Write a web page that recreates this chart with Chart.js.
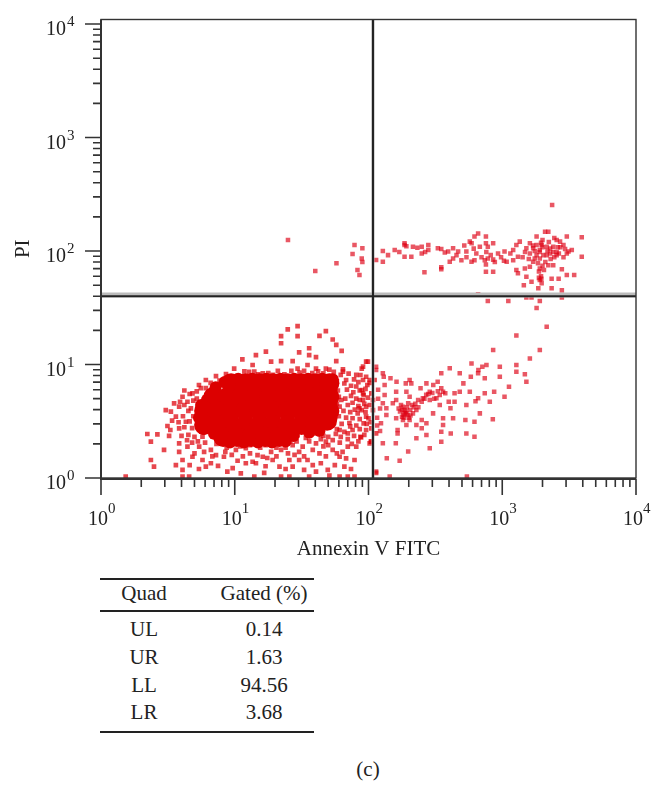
<!DOCTYPE html>
<html>
<head>
<meta charset="utf-8">
<title>Annexin V FITC / PI</title>
<script src="https://cdn.jsdelivr.net/npm/chart.js@4"></script>
<style>
    body { margin: 0; background: #fff; width: 662px; height: 793px; position: relative; overflow: hidden; }
    canvas { position: absolute; left: 0; top: 0; }
    #quadTable { position: absolute; left: 100px; top: 578px; width: 214px; border-collapse: separate; border-spacing: 0;
        border-top: 2px solid #222; border-bottom: 2px solid #222; font: 21px "Liberation Serif", serif; color: #222; }
    #quadTable th { font-weight: normal; height: 32px; padding: 0 0 4px; box-sizing: border-box; border-bottom: 2px solid #222; }
    #quadTable td { height: 27.7px; padding: 0; text-align: center; }
    #quadTable .name { width: 88px; padding-right: 26px; text-align: center; }
    #quadTable tbody tr:first-child td { padding-top: 4px; }
    #quadTable tbody tr:last-child td { padding-bottom: 4px; }
    #caption { position: absolute; left: 338px; width: 60px; top: 757px; text-align: center; font: 21px "Liberation Serif", serif; color: #222; }
</style>
</head>
<body>
<canvas id="dotPlot" width="662" height="560"></canvas>
<table id="quadTable"><thead></thead><tbody></tbody></table>
<div id="caption">(c)</div>
<script>
// Axis ranges and ticks
const xRange = [1, 10000];
const yRange = [1, 10965];
const majorTicks = [1, 10, 100, 1000, 10000];
const tickExponents = ['0', '1', '2', '3', '4'];
const allTicks = [1, 2, 3, 4, 5, 6, 7, 8, 9, 10, 20, 30, 40, 50, 60, 70, 80, 90, 100, 200, 300, 400, 500, 600, 700, 800, 900,
    1000, 2000, 3000, 4000, 5000, 6000, 7000, 8000, 9000, 10000];

// Quadrant gates
const gateX = 108;
const gateY = 40;

// Solid centre of the lower left population
const denseCore = [
    [9.4,6.85],[12,6.85],[15.3,6.85],[19.4,6.85],[24.8,6.85],[31.6,6.85],[40,6.85],[51,6.85],
    [6.9,5.17],[8.8,5.17],[11.2,5.17],[14.2,5.17],[18.1,5.17],[23,5.17],[29.4,5.17],[37.4,5.17],[47.6,5.17],[51,5.17],
    [5.9,3.89],[7.4,3.89],[9.4,3.89],[12,3.89],[15.3,3.89],[19.4,3.89],[24.8,3.89],[31.6,3.89],[40,3.89],[51,3.89],
    [5.9,2.93],[7.4,2.93],[9.4,2.93],[12,2.93],[15.3,2.93],[19.4,2.93],[24.8,2.93],[31.6,2.93],[40,3],[49,3.2],
    [8.2,2.3],[10.4,2.3],[13.3,2.3],[16.9,2.3],[21.6,2.3]
];

// Rim of the solid centre
const coreEdge = [
    [10.6,7.5],[13.5,7.5],[17.2,7.5],[21.9,7.5],[27.8,7.5],[35.3,7.5],[45,7.5],[54,7.4],[8.4,7],[7.2,6.3],[6.2,4.9],[5.6,4.4],
    [5.4,3.4],[5.8,2.7],[7,2.45],[9.2,2.05],[11.7,2.05],[14.9,2.05],[19,2.05],[24,2.1],[27.5,2.35],[36,2.5],[43,2.6],[53,3.4],
    [53,4.5],[53,6]
];

// Scattered events around the core (Annexin, PI)
const lowerLeftEvents = [
    [29.5,21.8],[24.9,20.4],[22.2,17.8],[29.5,17.8],[22.2,15.4],[48,19.7],[43,17.9],[54,16.6],[57.4,14.9],[63,13.2],
    [30.3,12.8],[36,13.9],[36,12.1],[40.5,11.6],[17.1,13],[14.4,12.1],[11.4,11.1],[22.2,10.7],[27.1,10.7],[57.4,10.7],
    [18.7,10.6],[13.6,9.9],[9.9,9.2],[35,9.9],[99,10.6],[89,9.2],[64.4,9.05],[40.5,9.2],[48,9.2],[29.5,9.2],[14,8.65],
    [16.2,8.35],[19.2,8.1],[7.24,7.9],[8.6,8.25],[6.08,7.3],[6.08,6.2],[5.58,6.2],[4.83,5.57],[4.07,5.2],[3.52,4.55],
    [4.43,4.7],[3.05,3.97],[3.33,3.84],[3.84,4.25],[4.7,4.1],[3.63,3.47],[4.31,3.13],[3.14,2.87],[3.84,2.74],[2.22,2.44],
    [2.64,2.42],[3.23,2.35],[2.36,2.09],[2.96,1.77],[3.84,2.02],[3.84,1.7],[4.43,1.89],[2.36,1.44],[2.49,1.26],[3.63,1.3],
    [4.07,1.44],[4.07,1.18],[4.83,1.54],[5.74,1.44],[6.08,1.26],[6.63,1.35],[8.3,1.54],[9.65,1.22],[8.8,1.14],[11.1,1.1],
    [12.1,1.35],[13.6,1.39],[16.6,1.11],[16.2,1.54],[19.2,1.44],[21.6,1.26],[25.6,1.44],[30.3,1.44],[27.1,1.26],[38.3,1.3],
    [35,1.44],[40.5,1.14],[49.6,1.18],[51,1.05],[60.8,1.54],[68,1.49],[78.6,1.44],[66,1.26],[1.53,1.03],[4.07,1.03],
    [4.56,1.03],[14,1.03],[22.2,1.03],[25.6,1.03],[36,1.03],[60.8,1.03],[70,1.03],[78.6,1.03],[114,1.11],
    [5.74,2.31],[6.82,2.31],[8.3,2.28],[6.63,1.77],[5.42,1.89],[7.24,1.59],[10.2,1.77],[12.1,1.83],[14.8,1.59],[18.2,2.02],
    [22.2,2.09],[24.9,2.39],[30.3,2.65],[29.5,2.39],[38.3,2.47],[43,2.47],[48,2.09],[54,2.16],[40.5,2.02],[32.2,1.89],
    [27.1,1.95],[22.2,1.77],[18.7,1.7],[14.4,1.35],[30.3,1.7],[38.3,1.77],[54,1.77],[70,1.89],[81,1.89],[88,2.28],
    [70,2.47],[60.8,2.65],[54,2.93],[54,3.36],[76,3.36],[83,3.71],[60.8,4.25],[62.6,4.87],[86,4.87],[96,4.25],[108,4.87],
    [96,3.47],[76,2.65],[96,2.65],[105,2.09],[114,2.47],[81,6.4],[91,5.57],[102,7.3],[68,7.3],[64.4,8.65],[81,8.1],
    [96,7.8],[111,7.3],[96,10.6],[91,9.57],[87,8.08],[91,7.3],[98,6.6],[102,6.9],[89,5.96],[92,5.39],[105,5.57],
    [91,4.87],[102,4.4],[89,3.97],[108,3.97],[100,3.36],[92,3.03],[105,2.74],[102,2.02],[104,2.09],[87,2.31],[85.6,4.1],
    // right shoulder, up to the gate
    [62,8.1],[71,8.3],[78,7.4],[58,7.1],[66,6.8],[74,6.5],[84,7],[59,5.9],[69,6],[77,5.7],[86,5.9],[95,6.1],[60,5.2],[67,5],
    [74,5.3],[81,5],[99,5.1],[58,4.5],[70,4.4],[76,4.6],[84,4.3],[93,4.5],[65,3.9],[73,3.8],[79,4],[95,3.8],[60,3.5],[68,3.4],
    [86,3.3],[104,3.1],[63,3],[72,3.05],[81,2.9],[97,3],[58,2.7],[66,2.55],[73,2.85],[86,2.7],[62,2.3],[70,2.2],[78,2.35],
    [93,2.4],[61,2.05],[75,2],[84,2.1],[50,2.3],[57,2.45],[46,2.35],
    // lower band under the core
    [6,2.05],[7.3,2],[8.7,1.85],[11,1.9],[13,1.95],[15.5,1.85],[17,1.95],[20.5,1.85],[24,1.85],[26,2.1],[29,2.1],[34,2.25],
    [36,2.1],[44,2.2],[46,1.9],[50,1.95],[5,1.65],[5.9,1.7],[6.8,1.55],[8.5,1.7],[9.5,1.6],[11.5,1.55],[13,1.65],[17.5,1.5],
    [20.5,1.55],[25,1.65],[28,1.6],[33,1.55],[43,1.65],[48,1.55],[58,1.65],[64,1.7],[4.6,1.3],[5.4,1.2],[7.5,1.28],[10.5,1.42],
    [17,1.27],[24,1.2],[33,1.18],[44,1.35],[56,1.3],[74,1.2],
    // left fringe
    [4.2,5.9],[4.6,5.5],[5.2,5.8],[5.4,6.6],[6.6,6.9],[7.7,7.2],[3.9,4.7],[4.2,4.4],[4.9,4.8],[5.2,5],[4.5,3.9],[4.9,3.5],[4.1,3.5],
    [3.4,3.2],[3.8,3.1],[4.6,3.15],[3.3,2.65],[4.2,2.8],[4.8,2.75],[4.5,2.4],[4,2.35],[5,2.3],[5.3,2.1],[4.8,2.05],[4.4,2.15],
    // top fringe
    [11.8,8.7],[12.8,8.6],[15,8.2],[17.8,8.4],[21,8.8],[23.5,8.2],[26.5,8.8],[30.5,8.5],[33,8.8],[38,8.4],[42,8.7],[46,8.35],[51,9],[55,8.6]
];

const lowerRightEvents = [
    [114,9.57],[114,8.94],[128,8.36],[130,7.81],[146,7.55],[162,7.06],[190,6.82],[203,7.3],[209,6.82],[271,6.82],[329,7.06],
    [350,8.36],[405,9.25],[481,8.36],[589,10.2],[855,13.4],[762,9.9],[710,9.57],[663,8.94],[660,8.36],[582,7.81],[512,6.82],
    [740,7.55],[959,9.57],[959,7.81],[1275,9.9],[1275,8.64],[1476,8.2],[1515,7.06],[1609,11.3],[1909,13.4],[1275,18],
    [2149,21.5],[1123,6.38],[870,5.76],[740,5.57],[1040,5.21],[807,4.7],[631,4.75],[660,5.04],[539,4.4],[530,3.24],[620,3.13],
    [680,3.71],[850,3.3],[572,5.76],[481,5.76],[361,5.76],[375,5.57],[350,6.17],[341,5.39],[322,5.04],[341,4.4],[398,4.7],
    [440,4.7],[410,4.11],[429,3.36],[361,3.36],[361,2.93],[350,2.56],[412,2.47],[539,2.47],[620,2.31],[350,2.09],[287,1.83],
    [271,2.39],[228,2.24],[250,2.74],[271,3.03],[304,3.71],[250,3.24],[228,2.93],[203,3.24],[215,3.71],[228,3.97],[250,4.7],
    [287,5.76],[287,4.87],[255,5.04],[235,4.87],[203,5.21],[192,5.76],[161,5.76],[161,4.87],[181,4.25],[186,3.97],[192,3.71],
    [161,3.36],[181,3.24],[192,2.93],[165,2.65],[165,2.47],[160,2.02],[128,2.02],[198,1.71],[171,1.42],[137,1.49],[114,1.14],
    [144,1.03],[544,1.03],[152,4.55],[132,6.6],[132,5.39],[128,4.55],[136,4.11],[136,3.59],[124,3.03],[186,3.71],[196,3.59],
    [205,3.97],[178,3.47],[212,4.4],[198,4.55],[245,6.17],[305,6.6],[440,5.57],
    // brightest part of the cluster
    [178,4],[182,3.6],[190,3.85],[194,4.2],[172,3.85],[184,3.4],[200,3.4],[206,3.55],[175,4.4],[168,4.1],[218,4.2],[224,4.5],
    [236,4.2],[262,5],[270,5.4],[280,5.5],[300,5.6],[310,5],[330,5.8],[118,6],[118,5],[122,4.1],[116,3.4],[122,2.6],[116,2.9]
];

const upperRightEvents = [
    [2360,254],[2210,148],[2090,148],[1806,134],[3039,134],[3930,132],[2551,125],[2705,121],[660,143],[620,134],[572,121],
    [590,117],[755,134],[755,117],[855,117],[680,109],[780,109],[930,95],[1040,99],[1207,102],[1352,121],[1275,113],[1609,117],
    [1806,113],[1970,113],[1515,106],[1703,106],[1909,102],[2149,109],[2405,109],[2868,113],[3129,99],[3310,102],[3039,95],
    [2551,92],[2277,95],[2029,92],[1806,92],[1609,95],[1703,80.5],[1909,86],[1609,72.8],[1909,70.3],[2210,75],[2405,75],
    [2790,69],[3930,89],[3039,61.5],[3450,61.5],[2340,57],[2640,57],[1476,70],[1275,68],[1310,63.6],[1515,59.4],[1655,53.7],
    [1909,55.5],[1970,51.9],[1860,46.9],[1450,50],[2340,46.9],[2790,45],[1515,39],[1655,39],[1909,36.3],[1806,31.5],[2790,39],
    [1110,36.3],[780,36.3],[660,41.5],[114,83.3],[128,80.5],[128,100],[140,92],[157,102],[186,113],[186,89],[209,89],[215,109],
    [250,109],[280,113],[280,102],[250,95],[350,104],[394,99],[429,106],[429,86],[405,80.5],[468,99],[539,99],[495,83],[589,80.5],
    [620,83],[740,83],[780,86],[855,84],[1030,82],[1207,83],[1310,89],[1079,80.5],[755,76],[262,65],[350,72],[350,69],[755,65.8],
    [855,65.8],[186,117],[1900,98],[2000,108],[1750,100],[2230,120],[2450,130],[2600,108],[2300,85],[2100,80],[1850,78],[1750,86],
    [1700,112],[2650,95],[2950,104],[2050,68],[1950,60],[1880,58],[1960,57],[2000,125],[2180,100],
    // band between the gate and the cluster
    [170,98],[192,110],[232,107],[265,98],[330,106],[372,97],[455,92],[520,112],[540,88],[612,105],[640,95],[700,88],[760,98],
    [820,92],[880,80],[980,88],[1150,95],[1420,88],[1580,85],[1480,98],[1950,118],[2550,98],[2400,98],[2280,105],[2720,108],
    [2870,88],[1880,66],[2000,74],[2150,92],[2450,88]
];

const upperLeftEvents = [
    [25,125],[40,66.6],[57.6,78],[78.6,113],[76,94],[90,80],[90,106],[82.7,68],[89,86],[85.6,61.5]
];

// Quadrant table
const tableHeader = ['Quad', 'Gated (%)'];
const quadNames = ['UL', 'UR', 'LL', 'LR'];
const gatedPercent = ['0.14', '1.63', '94.56', '3.68'];

// Build the table below the plot
document.querySelector('#quadTable thead').innerHTML =
    '<tr><th class="name">' + tableHeader[0] + '</th><th>' + tableHeader[1] + '</th></tr>';
document.querySelector('#quadTable tbody').innerHTML = quadNames.map((name, i) =>
    '<tr><td class="name">' + name + '</td><td>' + gatedPercent[i] + '</td></tr>').join('');

const toPoints = pairs => pairs.map(p => ({ x: p[0], y: p[1] }));
const inkColor = '#333';
const labelFont = '"Liberation Serif", serif';

// Frame, tick marks and power-of-ten labels
const axisDecor = {
    id: 'axisDecor',
    afterDraw(chart) {
        const { ctx, chartArea: area, scales: { x, y } } = chart;
        ctx.save();
        ctx.strokeStyle = inkColor;
        ctx.lineWidth = 1.4;
        ctx.strokeRect(area.left, area.top, area.right - area.left, area.bottom - area.top);
        ctx.lineWidth = 2;
        ctx.beginPath();
        ctx.moveTo(area.left, area.top);
        ctx.lineTo(area.left, area.bottom + 1);
        ctx.lineTo(area.right, area.bottom + 1);
        ctx.stroke();

        ctx.lineWidth = 1.6;
        allTicks.forEach(v => {
            const len = majorTicks.includes(v) ? 16 : 8;
            const px = x.getPixelForValue(v);
            const py = y.getPixelForValue(v);
            ctx.beginPath();
            ctx.moveTo(px, area.bottom + 1);
            ctx.lineTo(px, area.bottom + 1 + len);
            ctx.moveTo(area.left, py);
            ctx.lineTo(area.left - len, py);
            ctx.stroke();
        });

        ctx.fillStyle = '#222';
        ctx.textBaseline = 'alphabetic';
        majorTicks.forEach((v, i) => {
            const px = x.getPixelForValue(v);
            const py = y.getPixelForValue(v);
            ctx.font = '20px ' + labelFont;
            ctx.textAlign = 'left';
            ctx.fillText('10', px - 13, 525);
            ctx.fillText('10', 46, py + 11);
            ctx.font = '15px ' + labelFont;
            ctx.fillText(tickExponents[i], px + 7, 513);
            ctx.fillText(tickExponents[i], 67, py + 2);
        });
        ctx.restore();
    }
};

// Log axis: ticks come from the list, size is fixed so the plot area stays in place
function logAxis(range, title, fit, titlePad) {
    return {
        type: 'logarithmic',
        min: range[0],
        max: range[1],
        grid: { display: false },
        border: { display: false },
        ticks: { display: false },
        afterBuildTicks: scale => { scale.ticks = allTicks.map(v => ({ value: v })); },
        afterFit: fit,
        title: { display: true, text: title, color: '#222', font: { family: labelFont, size: 21, lineHeight: 1 }, padding: titlePad }
    };
}

const eventColor = 'rgba(222,0,20,0.66)';

const chart = new Chart(document.getElementById('dotPlot').getContext('2d'), {
    type: 'scatter',
    data: {
        datasets: [
            { label: 'Gate X', data: toPoints([[gateX, yRange[0]], [gateX, yRange[1]]]), showLine: true, borderColor: '#222', borderWidth: 2, pointRadius: 0 },
            { label: 'Gate Y', data: toPoints([[xRange[0], gateY], [xRange[1], gateY]]), showLine: true, borderColor: '#222', borderWidth: 2, pointRadius: 0 },
            { label: 'Gate X halo', data: toPoints([[gateX, yRange[0]], [gateX, yRange[1]]]), showLine: true, borderColor: '#aaa', borderWidth: 3, pointRadius: 0 },
            { label: 'Gate Y halo', data: toPoints([[xRange[0], 41], [xRange[1], 41]]), showLine: true, borderColor: '#bbb', borderWidth: 5, pointRadius: 0 },
            { label: 'Core', data: toPoints(denseCore), backgroundColor: '#dc0000', borderWidth: 0, pointRadius: 10 },
            { label: 'Core edge', data: toPoints(coreEdge), backgroundColor: '#dc0000', borderWidth: 0, pointRadius: 6 },
            { label: 'LL', data: toPoints(lowerLeftEvents), backgroundColor: 'rgba(222,0,10,0.72)', borderWidth: 0, pointStyle: 'rect', pointRadius: 3.3 },
            { label: 'LR', data: toPoints(lowerRightEvents), backgroundColor: eventColor, borderWidth: 0, pointStyle: 'rect', pointRadius: 3.2 },
            { label: 'UR', data: toPoints(upperRightEvents), backgroundColor: eventColor, borderWidth: 0, pointStyle: 'rect', pointRadius: 3.2 },
            { label: 'UL', data: toPoints(upperLeftEvents), backgroundColor: eventColor, borderWidth: 0, pointStyle: 'rect', pointRadius: 3.2 }
        ]
    },
    options: {
        responsive: false,
        animation: false,
        layout: { padding: { top: 19.5, right: 26, left: 0, bottom: 0 } },
        plugins: { legend: { display: false }, tooltip: { enabled: false } },
        scales: {
            x: logAxis(xRange, 'Annexin V FITC', s => { s.height = 82; }, { top: 0, bottom: 0 }),
            y: logAxis(yRange, 'PI', s => { s.width = 101; }, { top: 12.5, bottom: 0 })
        }
    },
    plugins: [axisDecor]
});
</script>
</body>
</html>
